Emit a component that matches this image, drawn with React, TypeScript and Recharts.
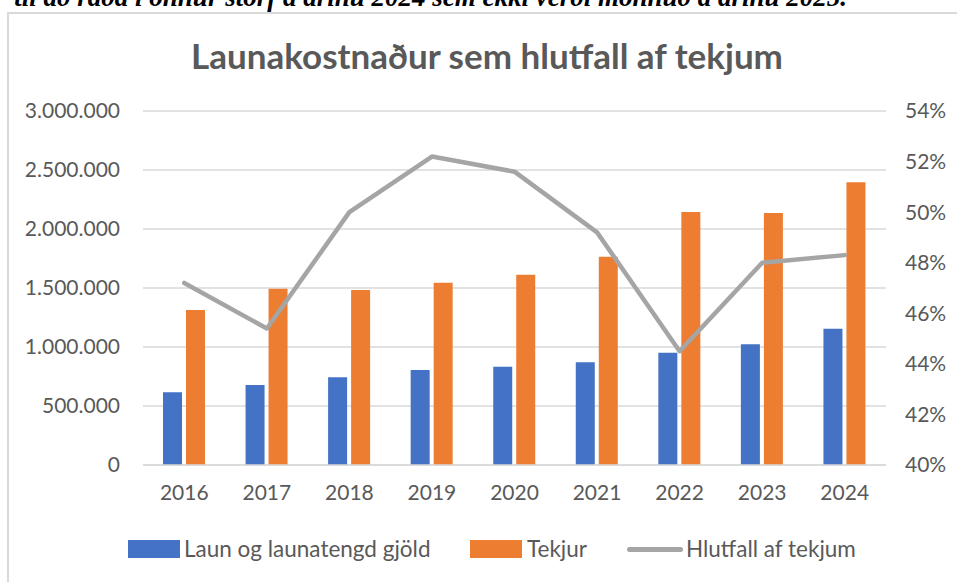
import React from 'react';
import { ComposedChart, Bar, Line, XAxis, YAxis, CartesianGrid } from 'recharts';

const years = ['2016', '2017', '2018', '2019', '2020', '2021', '2022', '2023', '2024'];
const laun = [616000, 678000, 743000, 805000, 832000, 870000, 952000, 1023000, 1155000];
const tekjur = [1313000, 1494000, 1483000, 1545000, 1613000, 1765000, 2144000, 2136000, 2396000];
const hlutfall = [0.472, 0.454, 0.500, 0.522, 0.516, 0.492, 0.445, 0.480, 0.483];

const leftTicks = [0, 500000, 1000000, 1500000, 2000000, 2500000, 3000000];
const rightTicks = [0.40, 0.42, 0.44, 0.46, 0.48, 0.50, 0.52, 0.54];

const seriesNames = ['Laun og launatengd gjöld', 'Tekjur', 'Hlutfall af tekjum'];
const colors = ['#4472c4', '#ed7d31', '#a5a5a5'];
const title = 'Launakostnaður sem hlutfall af tekjum';
const topLine = 'til að ráða í önnur störf á árinu 2024 sem ekki verði mönnuð á árinu 2025.';

const data = years.map((y, i) => ({ year: y, laun: laun[i], tekjur: tekjur[i], hlutfall: hlutfall[i] }));

const fmtNum = (v: number) => String(Math.round(v)).replace(/\B(?=(\d{3})+(?!\d))/g, '.');
const fmtPct = (v: number) => Math.round(v * 100) + '%';

const FONT = 'Lato, "Noto Sans", sans-serif';
const TXT = '#595959';
const TICK = { fontSize: 21, fill: TXT, fontFamily: FONT };

const legendText: React.CSSProperties = {
  position: 'absolute',
  top: 535,
  fontFamily: FONT,
  fontSize: 22.5,
  lineHeight: '28px',
  color: TXT,
  whiteSpace: 'nowrap',
};

export default function App() {
  return (
    <div style={{ position: 'absolute', left: 0, top: 0, width: 957, height: 582, overflow: 'hidden', background: '#fff' }}>
      <div
        style={{
          position: 'absolute',
          right: 110,
          top: -18,
          whiteSpace: 'nowrap',
          fontFamily: '"Liberation Serif", "Times New Roman", serif',
          fontWeight: 'bold',
          fontStyle: 'italic',
          fontSize: 27,
          lineHeight: '30px',
          color: '#000',
        }}
      >
        {topLine}
      </div>
      <div
        style={{
          position: 'absolute',
          left: 7,
          top: 12,
          width: 1000,
          height: 700,
          borderLeft: '2px solid #d9d9d9',
          borderTop: '2px solid #d9d9d9',
          boxSizing: 'border-box',
        }}
      />
      <div
        style={{
          position: 'absolute',
          left: 0,
          top: 34,
          width: 974,
          textAlign: 'center',
          fontFamily: FONT,
          fontWeight: 'bold',
          fontSize: 35,
          lineHeight: '42px',
          color: TXT,
        }}
      >
        {title}
      </div>
      <div style={{ position: 'absolute', left: 0, top: 0 }}>
        <ComposedChart
          width={957}
          height={582}
          data={data}
          margin={{ top: 111, right: 0, left: 0, bottom: 57 }}
          barSize={19}
          barGap={4}
        >
          <CartesianGrid yAxisId="left" vertical={false} stroke="#d9d9d9" strokeWidth={1.5} />
          <XAxis
            dataKey="year"
            height={60}
            tickLine={false}
            axisLine={{ stroke: '#d9d9d9', strokeWidth: 1.5 }}
            tickSize={0}
            tickMargin={20}
            tick={TICK}
          />
          <YAxis
            yAxisId="left"
            orientation="left"
            width={143}
            domain={[0, 3000000]}
            ticks={leftTicks}
            tickFormatter={fmtNum}
            tickLine={false}
            axisLine={false}
            tickSize={0}
            tickMargin={23}
            interval={0}
            tick={TICK}
          />
          <YAxis
            yAxisId="right"
            orientation="right"
            width={71}
            domain={[0.4, 0.54]}
            ticks={rightTicks}
            tickFormatter={fmtPct}
            tickLine={false}
            axisLine={false}
            tickSize={0}
            tickMargin={19}
            interval={0}
            tick={{ ...TICK, textAnchor: 'start' }}
          />
          <Bar yAxisId="left" dataKey="laun" name={seriesNames[0]} fill={colors[0]} isAnimationActive={false} />
          <Bar yAxisId="left" dataKey="tekjur" name={seriesNames[1]} fill={colors[1]} isAnimationActive={false} />
          <Line
            yAxisId="right"
            type="linear"
            dataKey="hlutfall"
            name={seriesNames[2]}
            stroke={colors[2]}
            strokeWidth={4.5}
            strokeLinejoin="round"
            strokeLinecap="round"
            dot={false}
            activeDot={false}
            isAnimationActive={false}
          />
        </ComposedChart>
      </div>
      <div style={{ position: 'absolute', left: 128, top: 540, width: 52, height: 18, background: colors[0] }} />
      <div style={{ ...legendText, left: 184 }}>{seriesNames[0]}</div>
      <div style={{ position: 'absolute', left: 470, top: 540, width: 52, height: 18, background: colors[1] }} />
      <div style={{ ...legendText, left: 527 }}>{seriesNames[1]}</div>
      <div style={{ position: 'absolute', left: 627, top: 547, width: 56, height: 5, borderRadius: 3, background: colors[2] }} />
      <div style={{ ...legendText, left: 686 }}>{seriesNames[2]}</div>
    </div>
  );
}
